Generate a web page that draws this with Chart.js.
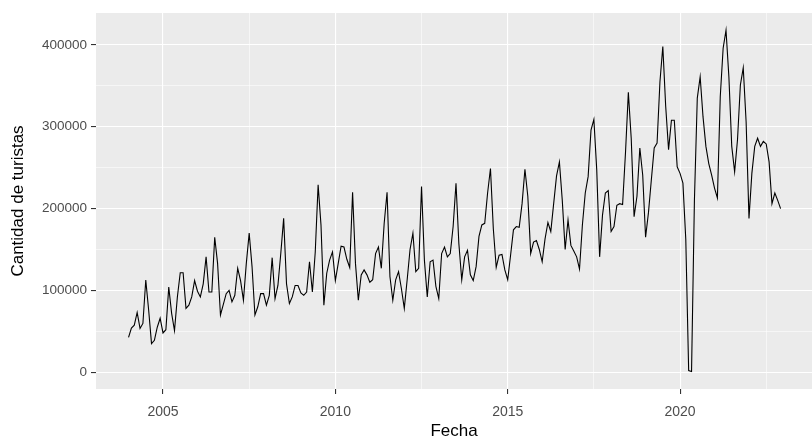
<!DOCTYPE html>
<html>
<head>
<meta charset="utf-8">
<script src="https://cdn.jsdelivr.net/npm/chart.js@4"></script>
<style>
  html, body { margin: 0; padding: 0; background: #ffffff; }
  canvas { display: block; }
</style>
</head>
<body>
<canvas id="chart" width="812" height="440"></canvas>
<script>
// Monthly tourist counts, Jan..Dec of each year
const y2004 = [42500, 54000, 57500, 73000, 53500, 59600, 112600, 76000, 35000, 39000, 55000, 66000];
const y2005 = [48000, 52000, 104000, 72000, 51000, 92000, 121500, 121500, 78000, 82000, 92000, 112000];
const y2006 = [99000, 92000, 108000, 141000, 98000, 98000, 165000, 133000, 70000, 83000, 96000, 100000];
const y2007 = [86000, 94000, 127000, 112000, 88000, 133000, 170000, 129000, 70000, 80000, 96000, 96000];
const y2008 = [82000, 94000, 140000, 90000, 106000, 145000, 188000, 108000, 84000, 92000, 106000, 106000];
const y2009 = [97000, 94000, 98000, 135000, 98000, 147000, 229000, 180000, 82000, 121000, 137000, 147000];
const y2010 = [112000, 133000, 154000, 153000, 138000, 128000, 220000, 133000, 88000, 119000, 125000, 119000];
const y2011 = [110000, 113000, 145000, 153000, 127000, 182000, 220000, 117000, 88000, 113000, 123000, 102000];
const y2012 = [78000, 113000, 150000, 170000, 123000, 127000, 227000, 137000, 92000, 135000, 137000, 105000];
const y2013 = [90000, 145000, 153000, 141000, 145000, 178000, 231000, 157000, 113000, 141000, 149000, 119000];
const y2014 = [112000, 129000, 166000, 180000, 182000, 219000, 249000, 175000, 128000, 143000, 144000, 125000];
const y2015 = [113000, 143000, 174000, 178000, 177000, 206000, 248000, 215000, 145000, 159000, 161000, 150000];
const y2016 = [135000, 163000, 183000, 172000, 206000, 240000, 257000, 210000, 150000, 186000, 155000, 148000];
const y2017 = [141000, 126000, 180000, 219000, 239000, 296000, 309000, 247000, 141000, 192000, 219000, 222000];
const y2018 = [172000, 178000, 204000, 206000, 205000, 268000, 342000, 286000, 190000, 215000, 274000, 241000];
const y2019 = [165000, 195000, 235000, 274000, 280000, 355000, 398000, 325000, 272000, 308000, 308000, 251000];
const y2020 = [243000, 231000, 162000, 2000, 1000, 210000, 335000, 361000, 312000, 276000, 255000, 241000];
const y2021 = [225000, 213000, 337000, 396000, 418000, 361000, 276000, 245000, 284000, 351000, 372000, 306000];
const y2022 = [188000, 243000, 276000, 286000, 276000, 282000, 279000, 257000, 206000, 219000, 210000, 200000];

const years = [2004, 2005, 2006, 2007, 2008, 2009, 2010, 2011, 2012, 2013,
               2014, 2015, 2016, 2017, 2018, 2019, 2020, 2021, 2022];
const yearly = [y2004, y2005, y2006, y2007, y2008, y2009, y2010, y2011, y2012, y2013,
                y2014, y2015, y2016, y2017, y2018, y2019, y2020, y2021, y2022];

const xTicks = [2005, 2010, 2015, 2020];
const xMinor = [2007.5, 2012.5, 2017.5, 2022.5];
const yTicks = [0, 100000, 200000, 300000, 400000];
const yMinor = [50000, 150000, 250000, 350000];

const points = [];
yearly.forEach((vals, k) => {
    vals.forEach((v, m) => points.push({ x: years[k] + m / 12, y: v }));
});

const panelBg = {
    id: 'panelBg',
    beforeDraw(chart) {
        const { ctx, chartArea: a } = chart;
        ctx.save();
        ctx.fillStyle = '#ffffff';
        ctx.fillRect(0, 0, chart.width, chart.height);
        ctx.fillStyle = '#EBEBEB';
        ctx.fillRect(a.left, a.top, a.right - a.left, a.bottom - a.top);
        ctx.restore();
    }
};

function setTicks(major, minor) {
    return scale => {
        scale.ticks = major.concat(minor).sort((a, b) => a - b).map(v => ({ value: v }));
    };
}

function gridFor(major) {
    return {
        color: '#ffffff',
        lineWidth: ctx => major.includes(ctx.tick.value) ? 1.1 : 0.55,
        drawTicks: true,
        tickLength: 5,
        tickWidth: 1.1,
        tickColor: ctx => major.includes(ctx.tick.value) ? '#333333' : 'rgba(0,0,0,0)'
    };
}

Chart.defaults.font.family = '"Liberation Sans", Arial, sans-serif';

new Chart(document.getElementById('chart').getContext('2d'), {
    type: 'line',
    data: {
        datasets: [{
            data: points,
            borderColor: '#000000',
            borderWidth: 1.1,
            pointRadius: 0,
            tension: 0,
            fill: false
        }]
    },
    options: {
        responsive: false,
        animation: false,
        events: [],
        layout: { padding: { top: 13, right: 0, bottom: 0, left: 0 } },
        plugins: {
            legend: { display: false },
            tooltip: { enabled: false }
        },
        scales: {
            x: {
                type: 'linear',
                min: 2003.056,
                max: 2023.828,
                afterBuildTicks: setTicks(xTicks, xMinor),
                afterFit: scale => { scale.height = 51; },
                border: { display: false },
                grid: gridFor(xTicks),
                ticks: {
                    autoSkip: false,
                    maxRotation: 0,
                    padding: 10,
                    color: '#4D4D4D',
                    font: { size: 14 },
                    callback: v => xTicks.includes(v) ? String(v) : ''
                },
                title: {
                    display: true,
                    text: 'Fecha',
                    color: '#000000',
                    font: { size: 17, lineHeight: 1.0 },
                    padding: { top: 0, bottom: 0 }
                }
            },
            y: {
                min: -20500,
                max: 439000,
                afterBuildTicks: setTicks(yTicks, yMinor),
                afterFit: scale => { scale.width = 96; },
                border: { display: false },
                grid: gridFor(yTicks),
                ticks: {
                    padding: 4,
                    color: '#4D4D4D',
                    font: { size: 13.5 },
                    callback: v => yTicks.includes(v) ? String(v) : ''
                },
                title: {
                    display: true,
                    text: 'Cantidad de turistas',
                    color: '#000000',
                    font: { size: 17 },
                    padding: { top: 8, bottom: 0 }
                }
            }
        }
    },
    plugins: [panelBg]
});
</script>
</body>
</html>
